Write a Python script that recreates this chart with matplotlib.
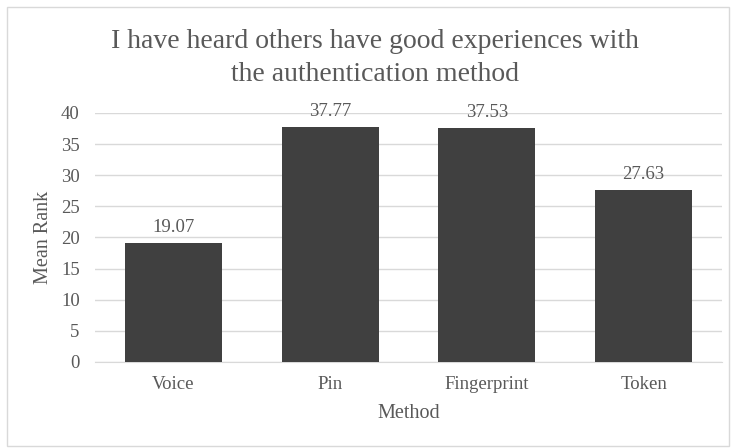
import matplotlib.pyplot as plt
from matplotlib.patches import Rectangle

methods = ['Voice', 'Pin', 'Fingerprint', 'Token']
mean_rank = [19.07, 37.77, 37.53, 27.63]
yticks = [0, 5, 10, 15, 20, 25, 30, 35, 40]
title_lines = ['I have heard others have good experiences with',
               'the authentication method']

bar_color = '#404040'
text_color = '#595959'
grid_color = '#d9d9d9'

plt.rcParams['font.family'] = ['Liberation Serif', 'DejaVu Serif']

fig = plt.figure(figsize=(7.32, 4.48), dpi=100)
ax = fig.add_axes([0.1298, 0.192, 0.8565, 0.556])

x = range(len(methods))
bars = ax.bar(x, mean_rank, width=0.62, color=bar_color, zorder=3)

for b, v in zip(bars, mean_rank):
    ax.annotate('%.2f' % v, (b.get_x() + b.get_width() / 2, v),
                xytext=(0, 5), textcoords='offset points',
                ha='center', va='bottom', fontsize=13.5, color=text_color)

ax.set_xlim(-0.5, len(methods) - 0.5)
ax.set_ylim(0, 40)
ax.set_yticks(yticks)
ax.set_xticks(list(x))
ax.set_xticklabels(methods)
ax.yaxis.grid(True, color=grid_color, linewidth=1, zorder=0)
ax.tick_params(axis='both', length=0, labelsize=13.5, labelcolor=text_color)
ax.tick_params(axis='y', pad=11)
ax.tick_params(axis='x', pad=10)
for s in ['top', 'right', 'left']:
    ax.spines[s].set_visible(False)
ax.spines['bottom'].set_color(grid_color)

ax.set_xlabel('Method', fontsize=14.5, color=text_color, labelpad=8)
ax.set_ylabel('Mean Rank', fontsize=14.5, color=text_color, labelpad=6)

# two-line title, baselines placed separately
for line, ypix in zip(title_lines, [48, 81]):
    fig.text(0.512, 1 - ypix / 448, line, ha='center', va='baseline',
             fontsize=20, color=text_color)

# light frame round the chart area
fig.patches.append(Rectangle((7 / 732, 2 / 448), 722 / 732, 439 / 448,
                             transform=fig.transFigure, fill=False,
                             edgecolor=grid_color, linewidth=1))

fig.savefig('out.png', dpi=100)
